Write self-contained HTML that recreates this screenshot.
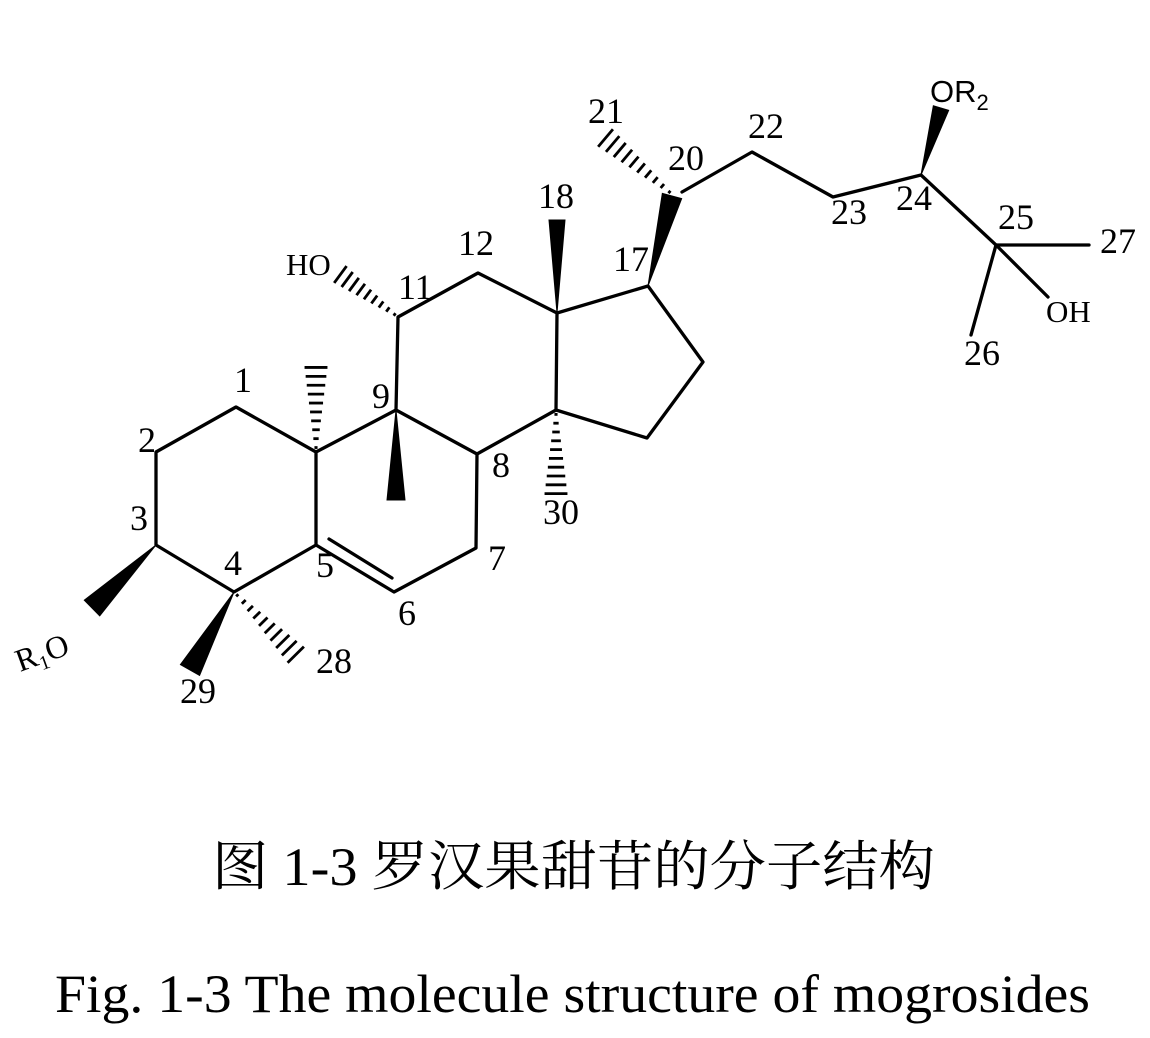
<!DOCTYPE html>
<html><head><meta charset="utf-8">
<style>html,body{margin:0;padding:0;background:#fff}svg{display:block}</style></head>
<body>
<svg id="s" width="1150" height="1038" viewBox="0 0 1150 1038" xmlns="http://www.w3.org/2000/svg">
<g stroke="#000" stroke-width="3.3" fill="none" stroke-linecap="round" stroke-linejoin="round">
<polyline points="316,452 236,407 156,452 156,545 234,592 316,545 316,452 396,410 477,454 476,548 394,592 316,545"/>
<line x1="329" y1="539" x2="392" y2="578"/>
<polyline points="396,410 398,317 478,273 557,313 556,410 477,454"/>
<polyline points="557,313 648,286 703,362 647,438 556,410"/>
<polyline points="682,192 752,152 833,197 921,175 996,245 1089,245"/>
<line x1="996" y1="245" x2="1048" y2="297"/>
<line x1="996" y1="245" x2="971" y2="335"/>
</g>
<g id="w" fill="#000" stroke="#000"></g>
<g font-family="Liberation Serif, serif" font-size="36" fill="#000">
<text x="234" y="392">1</text>
<text x="138" y="452">2</text>
<text x="130" y="530">3</text>
<text x="224" y="575">4</text>
<text x="316" y="577">5</text>
<text x="398" y="625">6</text>
<text x="488" y="570">7</text>
<text x="492" y="477">8</text>
<text x="372" y="408">9</text>
<text x="398" y="299">11</text>
<text x="458" y="255">12</text>
<text x="286" y="275" font-size="31">HO</text>
<text x="543" y="524">30</text>
<text x="316" y="673">28</text>
<text x="180" y="703">29</text>
<text x="538" y="208">18</text>
<text x="613" y="271">17</text>
<text x="588" y="123">21</text>
<text x="668" y="170">20</text>
<text x="748" y="138">22</text>
<text x="831" y="224">23</text>
<text x="896" y="210">24</text>
<text x="998" y="229">25</text>
<text x="1100" y="253">27</text>
<text x="1046" y="322" font-size="31">OH</text>
<text x="964" y="365">26</text>
<text x="930" y="102" font-family="Liberation Sans, sans-serif" font-size="31">OR<tspan font-size="22" dy="8">2</tspan></text>
<text x="20" y="672" font-size="32" transform="rotate(-20 20 672)">R<tspan font-size="20" dy="6">1</tspan><tspan dy="-6">O</tspan></text>
</g>
<text x="212" y="885" font-family="Liberation Serif, Noto Serif CJK SC, serif" font-size="54" textLength="723" lengthAdjust="spacingAndGlyphs">图 1-3  罗汉果甜苷的分子结构</text>
<text x="55" y="1012" font-family="Liberation Serif, serif" font-size="54" textLength="1035" lengthAdjust="spacingAndGlyphs">Fig. 1-3 The molecule structure of mogrosides</text>
</svg>
<script>
var g=document.getElementById('w'),NS='http://www.w3.org/2000/svg';
function wedge(x1,y1,x2,y2,w){var dx=x2-x1,dy=y2-y1,L=Math.hypot(dx,dy),nx=-dy/L*w/2,ny=dx/L*w/2;
var p=document.createElementNS(NS,'polygon');p.setAttribute('points',x1+','+y1+' '+(x2+nx)+','+(y2+ny)+' '+(x2-nx)+','+(y2-ny));p.setAttribute('stroke-width','1');g.appendChild(p);}
function hash(x1,y1,x2,y2,w,n){var dx=x2-x1,dy=y2-y1,L=Math.hypot(dx,dy);for(var i=0;i<n;i++){var t=(i+0.5)/n,cx=x1+dx*t,cy=y1+dy*t,h=w/2*t+1,nx=-dy/L*h,ny=dx/L*h;
var l=document.createElementNS(NS,'line');l.setAttribute('x1',cx+nx);l.setAttribute('y1',cy+ny);l.setAttribute('x2',cx-nx);l.setAttribute('y2',cy-ny);l.setAttribute('stroke-width','2.8');g.appendChild(l);}}
wedge(396,410,396,500,18);
wedge(557,313,557,220,16);
wedge(648,286,672,196,20);
wedge(921,175,941,108,16);
wedge(156,545,92,608,22);
wedge(234,592,190,670,22);
hash(316,452,316,363,22,10);
hash(556,410,556,498,22,10);
hash(398,317,337,272,20,9);
hash(673,195,602,135,22,10);
hash(234,592,299,658,22,10);
</script>
</body></html>
